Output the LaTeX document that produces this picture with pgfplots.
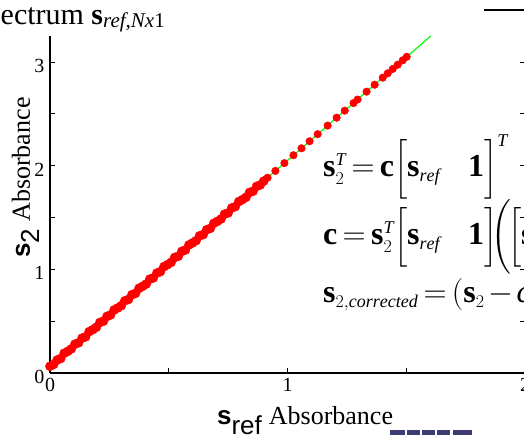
\documentclass[border=0pt]{standalone}
\usepackage{fix-cm}
\usepackage{exscale}
\usepackage{fontspec}
\setmainfont{Liberation Serif}
\setsansfont{Liberation Sans}
\usepackage{pgfplots}
\pgfplotsset{compat=1.18}
\definecolor{mred}{RGB}{255,0,0}
\definecolor{mgreen}{RGB}{0,255,0}
\definecolor{navy}{RGB}{60,60,115}
\DeclareMathSizes{32}{32}{18}{13}
\newcommand{\gap}{\hspace{28pt}}
\begin{document}
\begin{tikzpicture}[x=1pt,y=1pt]
\path[use as bounding box] (-50,-62) rectangle (474,373);
\begin{axis}[
  scale only axis, width=475pt, height=337pt,
  at={(0,0)}, anchor=south west,
  xmin=0, xmax=2, ymin=0, ymax=3.25,
  axis x line=bottom, axis y line=left,
  axis line style={-, line width=1.3pt},
  xtick={0,0.5,1,1.5,2}, xticklabels={0,,1,,2},
  ytick={0,0.5,1,1.5,2,2.5,3}, yticklabels={0,,1,,2,,3},
  tick align=inside, major tick length=5pt,
  tick style={black, line width=0.8pt},
  tick label style={font=\fontsize{20}{20}\selectfont},
  /pgf/number format/assume math mode=true,
  xticklabel style={yshift=-2pt},
  yticklabel style={yshift=-4pt, xshift=-2pt},
  xlabel={\textsf{\textbf{s}}$_{\textsf{ref}}$ Absorbance},
  label style={font=\fontsize{26}{26}\selectfont},
  xlabel style={at={(rel axis cs:0.537,-0.1543)}, anchor=base},
  clip=false,
]
\addplot[only marks, mark=*, mark size=4.6pt, color=mred, mark options={fill=mred, draw=mred}] coordinates {
(0.000,0.065)(0.015,0.082)(0.030,0.125)(0.045,0.140)(0.060,0.191)(0.075,0.209)
(0.090,0.233)(0.105,0.278)(0.120,0.291)(0.135,0.336)(0.150,0.349)(0.165,0.399)
(0.180,0.418)(0.195,0.441)(0.210,0.487)(0.225,0.500)(0.240,0.546)(0.255,0.560)
(0.270,0.608)(0.285,0.627)(0.300,0.649)(0.315,0.696)(0.330,0.709)(0.345,0.755)
(0.360,0.768)(0.375,0.817)(0.390,0.836)(0.405,0.858)(0.420,0.905)(0.435,0.917)
(0.450,0.964)(0.465,0.978)(0.480,1.026)(0.495,1.045)(0.510,1.067)(0.525,1.114)
(0.540,1.126)(0.555,1.173)(0.570,1.186)(0.585,1.235)(0.600,1.254)(0.615,1.276)
(0.630,1.323)(0.645,1.335)(0.660,1.382)(0.675,1.395)(0.690,1.444)(0.705,1.463)
(0.720,1.485)(0.735,1.532)(0.750,1.544)(0.765,1.591)(0.780,1.604)(0.795,1.653)
(0.810,1.672)(0.825,1.694)(0.840,1.741)(0.855,1.753)(0.870,1.800)(0.885,1.813)
(0.900,1.851)
};
\addplot[only marks, mark=*, mark size=3.8pt, color=mred, mark options={fill=mred, draw=mred}] coordinates {
(0.916,1.883)(0.949,1.949)(0.987,2.024)(1.025,2.100)(1.059,2.167)(1.093,2.235)
(1.127,2.303)(1.169,2.386)(1.207,2.462)(1.241,2.530)(1.278,2.603)(1.295,2.637)
(1.333,2.713)(1.367,2.780)(1.401,2.848)(1.422,2.890)(1.443,2.932)(1.464,2.973)
(1.485,3.015)(1.502,3.049)
};
\addplot[color=mgreen, line width=1.2pt] coordinates {(0,0.06)(1.603,3.25)};
\end{axis}
% y axis label
\node[rotate=90, anchor=base, inner sep=0pt, font=\fontsize{26}{26}\selectfont] at (-20,195.5)
  {\textsf{\textbf{s}}$_{\textsf{2}}$ Absorbance};
% right-side ticks of the box
\foreach \v in {0.5,1,1.5,2,2.5,3} \draw[line width=0.8pt] (475,\v*103.692) -- ++(-5,0);
% top-right fragment of a frame
\draw[line width=1.6pt] (434,363) -- (476,363);
% bottom cut-off fragments
\fill[navy] (340,-57) rectangle (355,-63);
\fill[navy] (357,-57) rectangle (370,-63);
\fill[navy] (372,-57) rectangle (385,-63);
\fill[navy] (387,-57) rectangle (400,-63);
\fill[navy] (403,-57) rectangle (422,-63);
% title (cut at the left edge)
\node[anchor=base east, inner sep=0pt, font=\fontsize{30}{30}\selectfont] at (115,348)
  {Reference spectrum \textbf{s}\raisebox{-3pt}{\fontsize{21}{21}\selectfont\itshape ref,Nx\upshape 1}};
% equations
\begin{scope}[every node/.style={anchor=base west, inner sep=0pt, font=\fontsize{32}{34}\selectfont}]
\node at (273,196) {$\mathbf{s}_{2}^{\mathit{T}}\mkern-2mu=\mkern-2mu\mathbf{c}\Big[\mathbf{s}_{\mathit{ref}}\gap\mathbf{1}\Big]^{\mathit{T}}$};
\node at (273,128) {$\mathbf{c}\mkern-2mu=\mkern-2mu\mathbf{s}_{2}^{\mathit{T}}\Big[\mathbf{s}_{\mathit{ref}}\gap\mathbf{1}\Big]\mkern-3mu\bigg(\mkern-2mu\Big[\mathbf{s}_{\mathit{ref}}\gap\mathbf{1}\Big]^{\mathit{T}}\Big[\mathbf{s}_{\mathit{ref}}\gap\mathbf{1}\Big]\bigg)^{-1}$};
\node at (273,70) {$\mathbf{s}_{2,\mathit{corrected}}\mkern-2mu=\mkern-2mu(\mathbf{s}_{2}\mkern-2mu-\mkern-2mu\mathit{c}_{2})/\mathit{c}_{1}$};
\end{scope}
\end{tikzpicture}
\end{document}
